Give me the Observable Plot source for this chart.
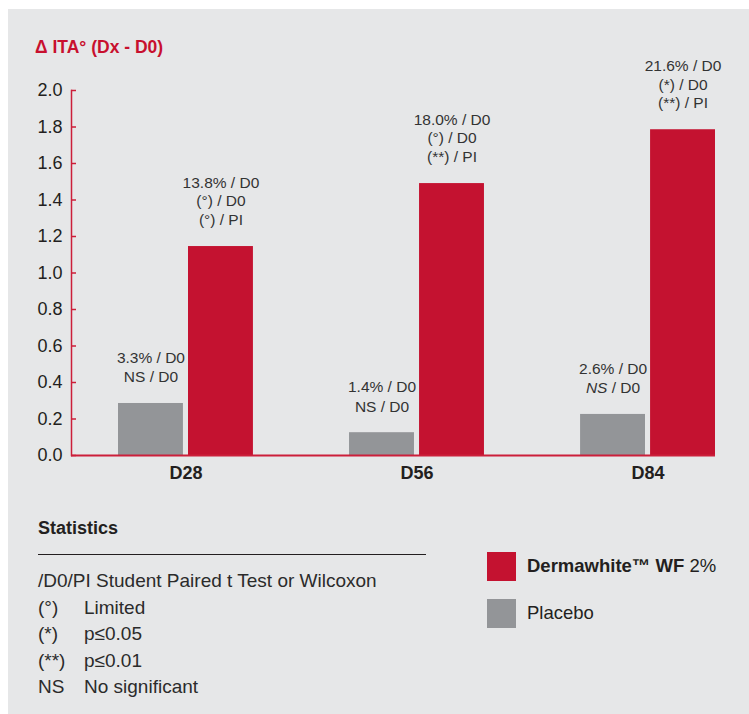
<!DOCTYPE html>
<html>
<head>
<meta charset="utf-8">
<script src="https://cdn.jsdelivr.net/npm/d3@7"></script>
<script src="https://cdn.jsdelivr.net/npm/@observablehq/plot@0.6"></script>
<style>
  html, body { margin: 0; padding: 0; background: #ffffff; }
  body { width: 749px; height: 714px; position: relative; overflow: hidden;
         font-family: "Liberation Sans", Arial, Helvetica, sans-serif; color: #231f20; }
  #panel { position: absolute; left: 8px; top: 9px; width: 741px; height: 705px; background: #e6e7e8; }
  #chart { position: absolute; left: 0; top: 0; }
  #title { position: absolute; left: 27px; top: 30px; font-size: 17.5px; line-height: 1; font-weight: bold; color: #c8102e; white-space: nowrap; }
  #statsTitle { position: absolute; left: 30px; top: 510px; font-size: 18px; line-height: 1; font-weight: bold; white-space: nowrap; }
  #statsRule { position: absolute; left: 30px; top: 544.5px; width: 388px; height: 0; border-top: 1.3px solid #231f20; }
  #statsList { position: absolute; left: 30px; top: 559px; font-size: 19px; line-height: 26.5px; color: #2b2b2b; }
  #statsList .row { display: flex; white-space: nowrap; }
  #statsList .k { width: 46px; }
  .legItem { position: absolute; left: 479px; height: 29px; white-space: nowrap; }
  .legSw { position: absolute; left: 0; top: 0; width: 29px; height: 29px; }
  .legTx { position: absolute; left: 40px; font-size: 18.5px; line-height: 1; color: #231f20; }
</style>
</head>
<body>
<div id="panel">
  <div id="chart"></div>
  <div id="title"></div>
  <div id="statsTitle"></div>
  <div id="statsRule"></div>
  <div id="statsList"></div>
  <div id="legend"></div>
</div>
<script>
// ---- data ----
const days = ["D28", "D56", "D84"];
const dermawhiteValues = [1.145, 1.49, 1.785];
const placeboValues = [0.285, 0.125, 0.225];
const dermawhiteLabels = [
  "13.8% / D0\n(°) / D0\n(°) / PI",
  "18.0% / D0\n(°) / D0\n(**) / PI",
  "21.6% / D0\n(*) / D0\n(**) / PI"
];
const placeboLabels = [
  "3.3% / D0\nNS / D0",
  "1.4% / D0\nNS / D0",
  "2.6% / D0\nNS / D0"
];
const yTicks = [0, 0.2, 0.4, 0.6, 0.8, 1.0, 1.2, 1.4, 1.6, 1.8, 2.0];
const seriesNames = ["Dermawhite™ WF", "2%", "Placebo"];
const titleText = "Δ ITA° (Dx - D0)";
const statsTitleText = "Statistics";
const statsHeader = "/D0/PI Student Paired t Test or Wilcoxon";
const statsKeys = ["(°)", "(*)", "(**)", "NS"];
const statsMeanings = ["Limited", "p≤0.05", "p≤0.01", "No significant"];

// ---- colours ----
const RED = "#c41230";
const AXIS_RED = "#cc1f3a";
const GRAY = "#939598";
const TEXT = "#231f20";

const dermRows = days.map((d, i) => ({day: d, value: dermawhiteValues[i], label: dermawhiteLabels[i]}));
const placRows = days.map((d, i) => ({day: d, value: placeboValues[i], label: placeboLabels[i]}));

const chart = Plot.plot({
  width: 741,
  height: 490,
  marginLeft: 63,
  marginRight: 34,
  marginTop: 81,
  marginBottom: 44,
  style: {background: "transparent", fontFamily: '"Liberation Sans", Arial, Helvetica, sans-serif', color: TEXT},
  x: {domain: days, range: [110, 707], paddingInner: 0.416, paddingOuter: 0, round: false, label: null},
  y: {domain: [0, 2], label: null},
  marks: [
    Plot.barY(placRows, {x: "day", y: "value", fill: GRAY, insetRight: 70}),
    Plot.barY(dermRows, {x: "day", y: "value", fill: RED, insetLeft: 70}),
    Plot.axisY({ticks: yTicks, tickSize: -5, stroke: AXIS_RED, strokeWidth: 1.5, fill: "none", label: null}),
    Plot.axisY({ticks: yTicks, tickSize: 0, tickPadding: 9, tickFormat: d3.format(".1f"), stroke: "none", fill: TEXT, fontSize: 18, label: null}),
    Plot.axisX({tickSize: 0, tickPadding: 11, fill: TEXT, fontSize: 18, fontWeight: "bold", label: null}),
    Plot.frame({anchor: "left", stroke: AXIS_RED, strokeWidth: 1.5}),
    Plot.ruleY([0], {stroke: AXIS_RED, strokeWidth: 2}),
    Plot.text(dermRows, {x: "day", y: "value", text: "label", dx: 35, dy: -22, lineAnchor: "bottom", lineHeight: 1.17, fontSize: 15.5, fill: "#333333"}),
    Plot.text(placRows, {x: "day", y: "value", text: "label", dx: -35, dy: -21, lineAnchor: "bottom", lineHeight: 1.27, fontSize: 15.5, fill: "#333333"})
  ]
});
document.getElementById("chart").appendChild(chart);

// italic "NS" in the D84 placebo label
const firstLine = placeboLabels[2].split("\n")[0];
chart.querySelectorAll("text").forEach(el => {
  const spans = el.querySelectorAll("tspan");
  if (spans.length === 2 && spans[0].textContent === firstLine) {
    const s = spans[1];
    const rest = s.textContent.replace(/^NS/, "");
    s.textContent = "";
    const it = document.createElementNS("http://www.w3.org/2000/svg", "tspan");
    it.setAttribute("font-style", "italic");
    it.textContent = "NS";
    s.appendChild(it);
    s.appendChild(document.createTextNode(rest));
  }
});

// ---- texts around the chart ----
document.getElementById("title").textContent = titleText;
document.getElementById("statsTitle").textContent = statsTitleText;
const list = document.getElementById("statsList");
const header = document.createElement("div");
header.className = "row";
header.textContent = statsHeader;
list.appendChild(header);
statsKeys.forEach((k, i) => {
  const row = document.createElement("div");
  row.className = "row";
  const a = document.createElement("span"); a.className = "k"; a.textContent = k;
  const b = document.createElement("span"); b.textContent = statsMeanings[i];
  row.appendChild(a); row.appendChild(b);
  list.appendChild(row);
});

// ---- legend ----
const legend = document.getElementById("legend");
const legendItems = [
  {top: 543, color: RED, html: `<b>${seriesNames[0]}</b> ${seriesNames[1]}`, textTop: 5},
  {top: 590, color: GRAY, html: seriesNames[2], textTop: 5}
];
legendItems.forEach(it => {
  const d = document.createElement("div");
  d.className = "legItem";
  d.style.top = it.top + "px";
  d.innerHTML = `<div class="legSw" style="background:${it.color}"></div><div class="legTx" style="top:${it.textTop}px">${it.html}</div>`;
  legend.appendChild(d);
});
</script>
</body>
</html>
